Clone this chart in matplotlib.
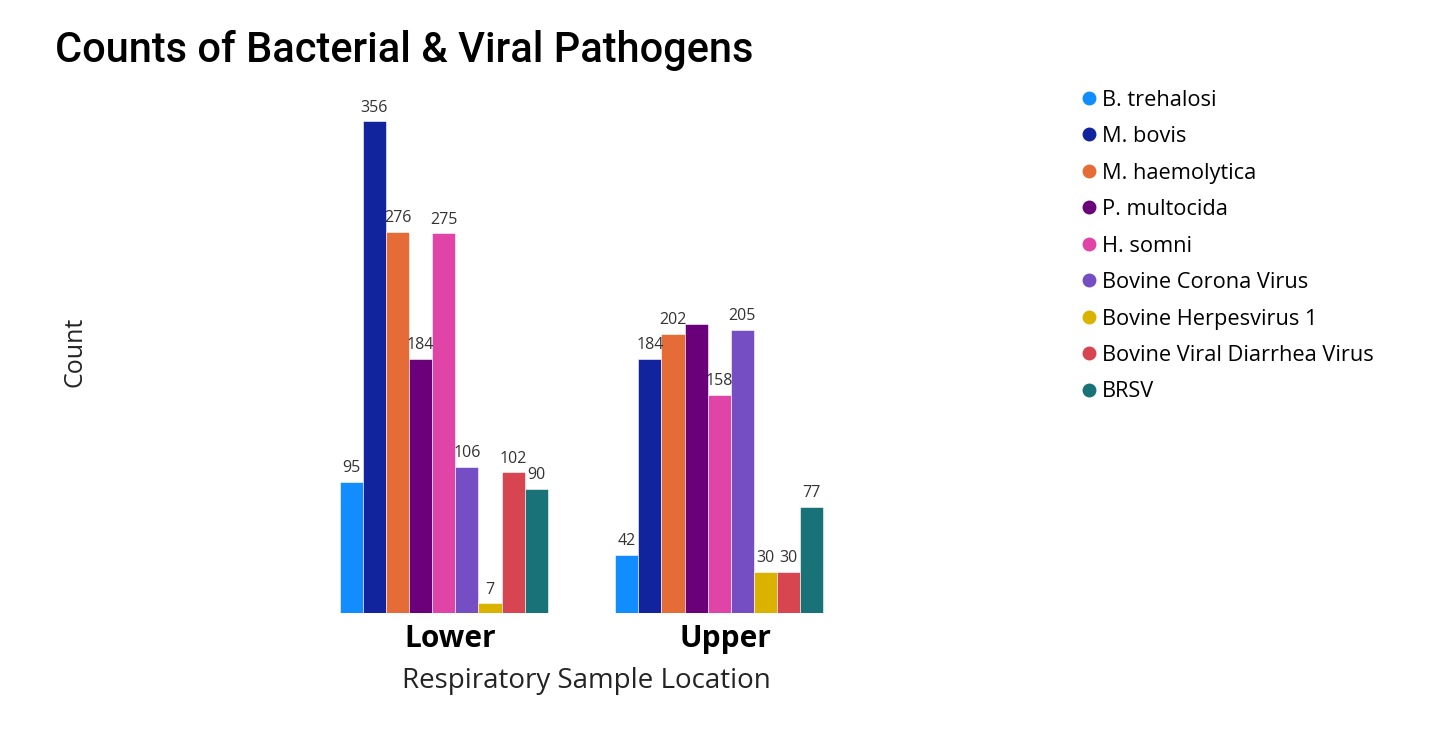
import matplotlib.pyplot as plt
import matplotlib.transforms as mtransforms
import numpy as np
from matplotlib.lines import Line2D

locations = ['Lower', 'Upper']
pathogens = ['B. trehalosi', 'M. bovis', 'M. haemolytica', 'P. multocida', 'H. somni',
             'Bovine Corona Virus', 'Bovine Herpesvirus 1', 'Bovine Viral Diarrhea Virus', 'BRSV']
lower_counts = [95, 356, 276, 184, 275, 106, 7, 102, 90]
upper_counts = [42, 184, 202, 209, 158, 205, 30, 30, 77]
colors = ['#118DFF', '#12239E', '#E66C37', '#6B007B', '#E044A7',
          '#744EC2', '#D9B300', '#D64550', '#197278']

W, H = 1441, 732
fig = plt.figure(figsize=(W / 100, H / 100), dpi=100)
# axes placed in pixel terms: left 306, right 857, bottom 613, top 88
ax = fig.add_axes([306 / W, (H - 613) / H, 551 / W, 525 / H])

n = len(pathogens)
bw = 0.084
x = np.arange(len(locations))
for i in range(n):
    vals = [lower_counts[i], upper_counts[i]]
    pos = x - bw * n / 2 + bw * (i + 0.5)
    ax.bar(pos, vals, width=bw, color=colors[i], edgecolor='white', linewidth=0.4)
    for j, v in enumerate(vals):
        # Power BI hid this one label (overlap)
        if j == 1 and i == 3:
            continue
        ax.annotate(str(v), (pos[j], v), xytext=(0, 4), textcoords='offset points',
                    ha='center', va='bottom', fontsize=11.5, color='#333333',
                    family='Open Sans')

ax.set_xlim(-0.5, 1.5)
ax.set_ylim(0, 380)
ax.set_xticks(x)
ax.set_xticklabels(locations, fontsize=21.5, fontweight='bold', family='Open Sans')
ax.tick_params(axis='x', length=0, pad=8)
shift = mtransforms.ScaledTranslation(6 / 100, 0, fig.dpi_scale_trans)
for lbl in ax.get_xticklabels():
    lbl.set_transform(lbl.get_transform() + shift)
ax.set_yticks([])
for s in ax.spines.values():
    s.set_visible(False)

fig.text(402 / W, 1 - 681 / H, 'Respiratory Sample Location', fontsize=20, color='#252423',
         va='center', ha='left', family='Open Sans')
fig.text(75 / W, 1 - 352 / H, 'Count', fontsize=18, color='#252423', rotation=90,
         va='center', ha='center', family='Open Sans')
fig.text(55 / W, 1 - 50 / H, 'Counts of Bacterial & Viral Pathogens', fontsize=29.9,
         color='black', va='center', ha='left', family='Roboto', fontweight='medium')

handles = [Line2D([0], [0], marker='o', linestyle='', markersize=9, color=c) for c in colors]
fig.legend(handles, pathogens, loc='upper left', bbox_to_anchor=(1063 / W, 1 - 70 / H),
           frameon=False, handlelength=0.6, handletextpad=0.3,
           labelspacing=0.71, prop={'family': 'Open Sans', 'size': 15.7})

fig.savefig('out.png', dpi=100)
